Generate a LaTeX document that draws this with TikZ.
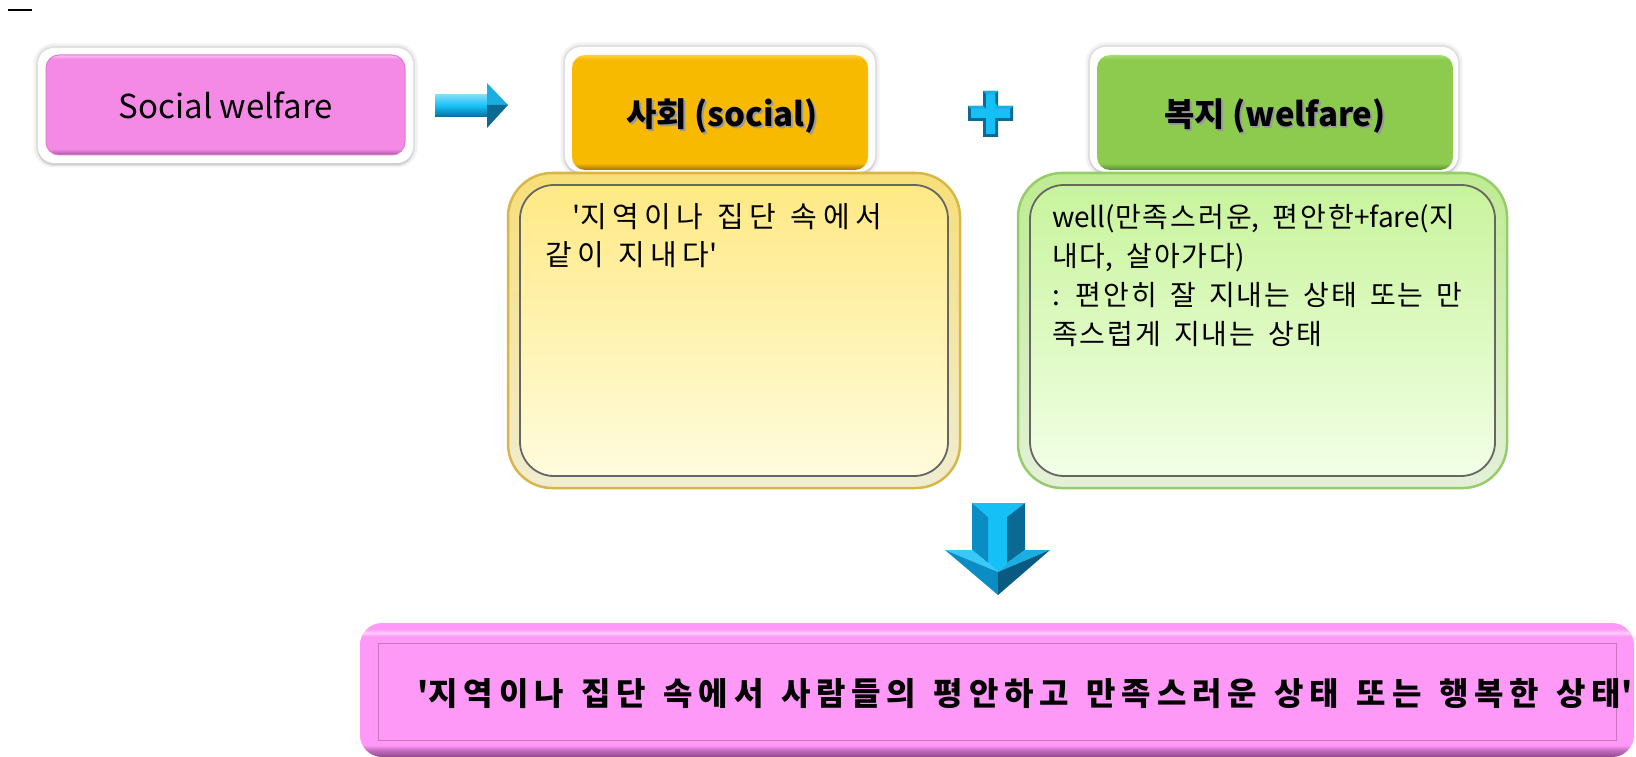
\documentclass[tikz,border=0pt]{standalone}
\usepackage{fontspec}
\setmainfont{Noto Sans CJK KR}
\newfontfamily\widekr[LetterSpace=18,WordSpace=1.35]{Noto Sans CJK KR}
\newfontfamily\boxkr[LetterSpace=19,WordSpace=1.2]{Noto Sans CJK KR}
\newfontfamily\defkr[LetterSpace=7,WordSpace=1.6]{Noto Sans CJK KR}
\usetikzlibrary{shadows}

\definecolor{swmain}{HTML}{F48AE6}
\definecolor{swdark}{HTML}{A0559A}
\definecolor{swlight}{HTML}{FAB4F2}
\definecolor{goldmain}{HTML}{F7BA00}
\definecolor{golddark}{HTML}{A87400}
\definecolor{goldlight}{HTML}{FFD040}
\definecolor{leafmain}{HTML}{8DCB4F}
\definecolor{leafdark}{HTML}{5A8E2A}
\definecolor{leaflight}{HTML}{A8DC72}
\definecolor{bigmain}{HTML}{FF99F8}
\definecolor{bigmid}{HTML}{C86CC2}
\definecolor{bigdark}{HTML}{8C4A8A}
\definecolor{biglight}{HTML}{FFCCFC}
\definecolor{bigedge}{HTML}{C878C0}
\definecolor{creamtop}{HTML}{FFE985}
\definecolor{creambot}{HTML}{FFFCDD}
\definecolor{creamedge}{HTML}{D9B648}
\definecolor{limetop}{HTML}{C8F49C}
\definecolor{limebot}{HTML}{F2FFE6}
\definecolor{limeedge}{HTML}{96CC6A}
\definecolor{arrowhi}{HTML}{14C0F6}
\definecolor{arrowlt}{HTML}{1AAEE2}
\definecolor{arrowmid}{HTML}{0A8CC4}
\definecolor{arrowlo}{HTML}{0A6A94}
\definecolor{arrowdeep}{HTML}{085A80}

\pgfdeclareverticalshading{swbar}{100bp}{color(0bp)=(swdark); color(25bp)=(swdark); color(28bp)=(swmain); color(73bp)=(swmain); color(74.5bp)=(swlight); color(100bp)=(swlight)}
\pgfdeclareverticalshading{goldbar}{100bp}{color(0bp)=(golddark); color(25bp)=(golddark); color(28bp)=(goldmain); color(73bp)=(goldmain); color(75bp)=(goldlight); color(100bp)=(goldlight)}
\pgfdeclareverticalshading{leafbar}{100bp}{color(0bp)=(leafdark); color(25bp)=(leafdark); color(28bp)=(leafmain); color(73bp)=(leafmain); color(75bp)=(leaflight); color(100bp)=(leaflight)}
\pgfdeclareverticalshading{bigbar}{100bp}{color(0bp)=(bigdark); color(25bp)=(bigdark); color(27.6bp)=(bigmid); color(29.5bp)=(bigmain); color(70bp)=(bigmain); color(71.3bp)=(biglight); color(72.8bp)=(bigmain); color(100bp)=(bigmain)}

\newcommand\shadowed[1]{\makebox[0pt][l]{\hspace{2pt}\raisebox{-2pt}{\textcolor{black!40}{#1}}}#1}

\tikzset{
  every node/.style={inner sep=0pt, outer sep=0pt},
  whiteframe/.style={fill=white, rounded corners=16pt,
    preaction={draw=black, opacity=.05, line width=9pt},
    preaction={draw=black, opacity=.07, line width=4pt},
    drop shadow={opacity=.15, shadow xshift=0pt, shadow yshift=-3pt}},
  bar/.style={shading=#1, rounded corners=13pt},
  hdrtext/.style={font=\bfseries\fontsize{33}{40}\selectfont, anchor=base},
  bigframe/.style={rounded corners=44pt, line width=2.5pt},
  bigpanel/.style={rounded corners=34pt, line width=1.8pt, draw=black!60},
  paneltext/.style={anchor=north west, align=left}
}

\begin{document}
\begin{tikzpicture}[x=1pt, y=-1pt]
  \useasboundingbox (0,0) rectangle (1636,757);
  \fill[white] (0,0) rectangle (1636,757);
  \draw[line width=1.5pt] (8,10) -- (32,10);

  \node[whiteframe, minimum width=375, minimum height=115] (swframe) at (225.5,105.5) {};
  \node[bar=swbar, draw=swmain!75!swdark, line width=1pt, minimum width=359, minimum height=100] (swbox) at (225.5,105) {};
  \node[font=\fontsize{33}{40}\selectfont, anchor=base] (swtext) at (226,119) {Social welfare};

  \node[whiteframe, minimum width=310, minimum height=125] (socframe) at (720,109.5) {};
  \node[bar=goldbar, minimum width=296, minimum height=115] (socbox) at (720,112.5) {};
  \node[hdrtext] (soctext) at (722,127) {\shadowed{사회 (social)}};

  \node[whiteframe, minimum width=368, minimum height=125] (welframe) at (1274,109.5) {};
  \node[bar=leafbar, minimum width=356, minimum height=115] (welbox) at (1275,112.5) {};
  \node[hdrtext] (weltext) at (1275,127) {\shadowed{복지 (welfare)}};

  % arrow and plus
  \shade[top color=arrowhi!55!white, bottom color=arrowlo, middle color=arrowhi]
    (435,95) rectangle (487,117);
  \fill[arrowlt] (487,83) -- (508,105) -- (487,105) -- cycle;
  \fill[arrowlo] (487,105) -- (508,105) -- (487,128) -- cycle;

  \fill[arrowlo] (983,91) -- (998,91) -- (998,106) -- (1013,106) -- (1013,121) -- (998,121)
    -- (998,137) -- (983,137) -- (983,121) -- (968,121) -- (968,106) -- (983,106) -- cycle;
  \fill[arrowlt] (983,91) -- (998,91) -- (995,94) -- (995,109) -- (1010,109) -- (1013,106)
    -- (998,106) -- cycle;
  \fill[arrowlt] (968,106) -- (983,106) -- (986,109) -- (971,109) -- cycle;
  \fill[arrowhi] (986,94) -- (995,94) -- (995,109) -- (1010,109) -- (1010,118) -- (995,118)
    -- (995,134) -- (986,134) -- (986,118) -- (971,118) -- (971,109) -- (986,109) -- cycle;

  \node[bigframe, top color=creamtop!80!creamedge, bottom color=creambot!94!black,
    draw=creamedge, minimum width=452, minimum height=315] (socpanel) at (734,330.5) {};
  \node[bigpanel, top color=creamtop, bottom color=creambot,
    minimum width=428, minimum height=291] (socin) at (734,330.5) {};
  \node[paneltext, font=\boxkr\fontsize{29}{38}\selectfont] (socdef) at (545,204)
    {\hspace*{27pt}\textquotesingle 지역이나 집단 속에서\\같이 지내다\textquotesingle};

  \node[bigframe, top color=limetop!80!limeedge, bottom color=limebot!94!black,
    draw=limeedge, minimum width=489, minimum height=315] (welpanel) at (1262.5,330.5) {};
  \node[bigpanel, top color=limetop, bottom color=limebot,
    minimum width=465, minimum height=291] (welin) at (1262.5,330.5) {};
  \node[paneltext, font=\defkr\fontsize{28}{39}\selectfont] (weldef) at (1052,204)
    {{\rmfamily well(}만족스러운{\rmfamily ,} 편안한{\rmfamily +fare(}지\\내다{\rmfamily ,} 살아가다{\rmfamily )}\\: 편안히 잘 지내는 상태 또는 만\\족스럽게 지내는 상태};

  \fill[arrowhi] (972,503) -- (1025,503) -- (1007,517) -- (1007,563) -- (998,572)
    -- (988,563) -- (988,517) -- cycle;
  \fill[arrowmid] (972,503) -- (988,517) -- (988,563) -- (972,550) -- cycle;
  \fill[arrowlo] (1025,503) -- (1007,517) -- (1007,563) -- (1025,550) -- cycle;
  \fill[arrowhi!85!white] (945,550) -- (972,550) -- (988,563) -- (998,572) -- cycle;
  \fill[arrowlt] (1050,550) -- (1025,550) -- (1007,563) -- (998,572) -- cycle;
  \fill[arrowmid] (945,550) -- (998,572) -- (998,595) -- cycle;
  \fill[arrowdeep] (1050,550) -- (998,572) -- (998,595) -- cycle;

  \node[bar=bigbar, rounded corners=22pt, minimum width=1274, minimum height=134] (result) at (997,690) {};
  \node[draw=bigedge, line width=1pt, minimum width=1238, minimum height=97] (resultin) at (997,691.5) {};
  \node[font=\widekr\bfseries\fontsize{32}{38}\selectfont, anchor=base] (resulttext) at (1025,705)
    {\textquotesingle 지역이나 집단 속에서 사람들의 평안하고 만족스러운 상태 또는 행복한 상태\textquotesingle};
\end{tikzpicture}
\end{document}
